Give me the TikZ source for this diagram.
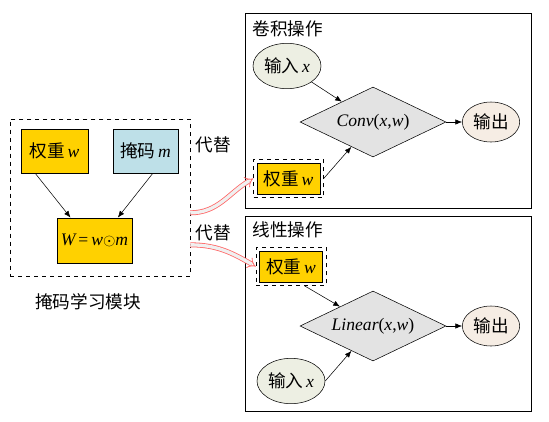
\documentclass[tikz,border=0pt]{standalone}
\usepackage{fontspec}
\newfontfamily\cjk{Noto Sans CJK SC}
\newfontfamily\tms{Liberation Serif}
\usepackage{xcolor}
\usetikzlibrary{shapes.geometric, positioning, arrows.meta, fit}

\definecolor{wgold}{HTML}{FFD100}
\definecolor{mblue}{HTML}{BEE0E8}
\definecolor{ingray}{HTML}{EDEFE3}
\definecolor{outpeach}{HTML}{F6EDE4}
\definecolor{opgray}{HTML}{E3E3E3}

% italic Times-like letters
\newcommand{\mv}[1]{{\tms\itshape #1}}

\begin{document}
\begin{tikzpicture}[
    x=0.75pt, y=-0.75pt,
    font=\fontsize{13.2}{16}\selectfont\cjk,
    wbox/.style={draw, fill=wgold, minimum width=50pt, minimum height=33pt, inner sep=2pt},
    mbox/.style={draw, fill=mblue, minimum width=49pt, minimum height=33pt, inner sep=2pt},
    wsmall/.style={draw, fill=wgold, minimum width=47pt, minimum height=23pt, inner sep=2pt},
    wrap/.style={draw, dashed, inner sep=2.5pt},
    panel/.style={draw, minimum width=214.5pt, minimum height=146pt},
    inp/.style={draw, ellipse, fill=ingray, minimum width=51pt, minimum height=34pt, inner sep=0pt},
    outp/.style={draw, ellipse, fill=outpeach, minimum width=43pt, minimum height=30pt, inner sep=0pt},
    op/.style={draw, diamond, aspect=2.1, fill=opgray, minimum width=109.5pt, minimum height=52.5pt, inner sep=0pt},
    conn/.style={-{Latex[length=5pt, width=4pt]}},
    repl/.style={draw=red!60, double=gray!12, double distance=2.5pt, line width=0.6pt, -{Implies}}
]
    \useasboundingbox (0,0) rectangle (549,421);

    % Nodes: mask learning module
    \node[draw, dashed, minimum width=135pt, minimum height=118pt] (learn) at (100, 197.5) {};
    \node[wbox] (wl) at (54.5, 151) {权重\,\mv{w}};
    \node[mbox] (ml) at (145.5, 151) {掩码\,\mv{m}};
    \node[wbox, minimum width=56pt, minimum height=34pt] (Wm) at (94.5, 240.5) {\mv{W}\,{\tms=}\,\mv{w}$\odot$\mv{m}};
    \node (learnlbl) at (88, 302) {掩码学习模块};

    % Nodes: convolution
    \node[panel] (convpanel) at (388, 110.5) {};
    \node[anchor=west] (convtitle) at (248, 29) {卷积操作};
    \node[inp] (cin) at (287, 66) {输入\,\mv{x}};
    \node[op] (convop) at (373, 122) {\mv{Conv}{\tms(}\mv{x}{\tms,}\mv{w}{\tms)}};
    \node[outp] (cout) at (491, 122) {输出};
    \node[wsmall] (cw) at (288.5, 178.5) {权重\,\mv{w}};
    \node[wrap, fit=(cw)] (cwd) {};

    % Nodes: linear
    \node[panel] (linpanel) at (388, 314) {};
    \node[anchor=west] (lintitle) at (248, 230) {线性操作};
    \node[wsmall] (lw) at (291, 266.5) {权重\,\mv{w}};
    \node[wrap, fit=(lw)] (lwd) {};
    \node[op] (linop) at (373, 326) {\mv{Linear}{\tms(}\mv{x}{\tms,}\mv{w}{\tms)}};
    \node[outp] (lout) at (491, 326) {输出};
    \node[inp] (lin) at (291, 381) {输入\,\mv{x}};

    \node (rep1) at (213, 145) {代替};
    \node (rep2) at (213, 233) {代替};

    % Connections
    \draw[conn] ([xshift=-14.5pt]wl.south) -- ([xshift=-18pt]Wm.north);
    \draw[conn] ([xshift=5.5pt]ml.south) -- ([xshift=17.5pt]Wm.north);

    \draw[conn] (cin) -- (convop);
    \draw[conn] (cwd.east) -- (convop);
    \draw[conn] (convop) -- (cout);

    \draw[conn] ([xshift=10pt]lwd.south) -- (linop);
    \draw[conn] (lin.east) -- (linop);
    \draw[conn] (linop) -- (lout);

    \draw[repl] ([yshift=-11.5pt]learn.east) to[out=0, in=210] (cwd.west);
    \draw[repl] ([yshift=-35.5pt]learn.east) to[out=0, in=150] (lwd.west);
\end{tikzpicture}
\end{document}
